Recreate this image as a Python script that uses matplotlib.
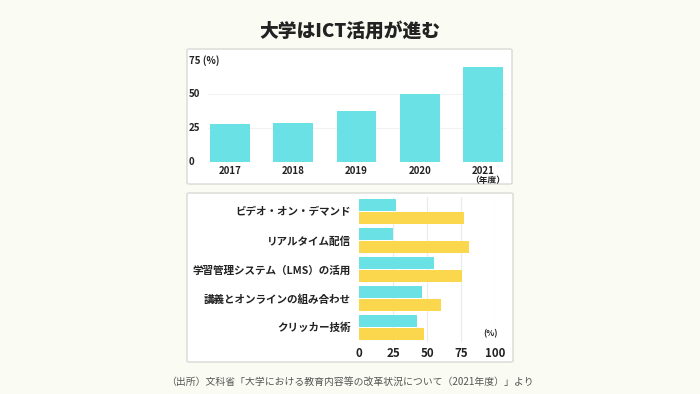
import numpy as np
import matplotlib.pyplot as plt
from matplotlib.patches import FancyBboxPatch

plt.rcParams['font.family'] = ['Noto Sans CJK JP', 'DejaVu Sans']

# データ
years = ['2017', '2018', '2019', '2020', '2021']
ict_rate = [28, 28.5, 37.5, 50, 70.5]

items = ['ビデオ・オン・デマンド', 'リアルタイム配信', '学習管理システム（LMS）の活用',
         '講義とオンラインの組み合わせ', 'クリッカー技術']
rate_a = [27, 25, 55, 46, 42.5]
rate_b = [77, 81, 75.5, 60, 48]

ticks_top = [0, 25, 50, 75]
ticks_top_labels = ['0', '25', '50', '75 (%)']
ticks_bottom = [0, 25, 50, 75, 100]

CYAN = '#6ae2e5'
YELLOW = '#fbd74e'
TXT = '#222222'
BG = '#fafbf3'

W, H = 700, 394
fig = plt.figure(figsize=(7, 3.94), dpi=100, facecolor=BG)


def px_box(x0, y0, x1, y1):
    # ピクセル座標 -> figure座標
    return [x0 / W, 1 - y1 / H, (x1 - x0) / W, (y1 - y0) / H]


# パネルの背景
for (x0, y0, x1, y1) in [(187, 49, 512, 184), (187, 193, 513, 362)]:
    l, b, w, h = px_box(x0, y0, x1, y1)
    fig.patches.append(FancyBboxPatch((l, b), w, h, boxstyle='round,pad=0,rounding_size=0.003',
                                      transform=fig.transFigure, facecolor='white',
                                      edgecolor='#d9d9d6', linewidth=1.0, zorder=-5))

fig.text(0.5, 1 - 31 / H, '大学はICT活用が進む', ha='center', va='center',
         fontsize=13.5, fontweight='heavy', color=TXT)

# 上のグラフ
ax1 = fig.add_axes(px_box(207.5, 60.7, 505.5, 161.7))
ax1.set_facecolor('none')
x = np.arange(len(years))
ax1.bar(x, ict_rate, width=0.63, color=CYAN, zorder=2)
ax1.set_xlim(-0.35, len(years) - 0.65)
ax1.set_ylim(0, 75)
for t in ticks_top[1:-1]:
    ax1.axhline(t, color='#f2f2f2', linewidth=0.8, zorder=1)
for s in ax1.spines.values():
    s.set_visible(False)
ax1.set_yticks([])
ax1.set_xticks(x)
ax1.set_xticklabels(years, fontsize=7, fontweight='bold', color=TXT)
ax1.tick_params(axis='x', length=0, pad=3)
for t, lab in zip(ticks_top, ticks_top_labels):
    ax1.text(-0.062, t, lab, transform=ax1.get_yaxis_transform(), ha='left', va='center',
             fontsize=7, fontweight='bold', color=TXT)
ax1.text(1.0, -0.19, '（年度）', transform=ax1.transAxes, ha='right', va='center',
         fontsize=6.3, fontweight='bold', color=TXT)

# 下のグラフ
ax2 = fig.add_axes(px_box(359.3, 197.2, 495, 341.6))
ax2.set_facecolor('none')
y = np.arange(len(items))
ax2.barh(y - 0.225, rate_a, height=0.415, color=CYAN, zorder=2)
ax2.barh(y + 0.225, rate_b, height=0.415, color=YELLOW, zorder=2)
ax2.set_ylim(len(items) - 0.5, -0.5)
ax2.set_xlim(0, 100)
for t in ticks_bottom[1:]:
    ax2.axvline(t, color='#ebebeb', linewidth=0.8, zorder=1)
for s in ax2.spines.values():
    s.set_visible(False)
ax2.set_yticks(y)
ax2.set_yticklabels(items, fontsize=7.6, fontweight='bold', color=TXT)
ax2.set_xticks(ticks_bottom)
ax2.set_xticklabels([str(t) for t in ticks_bottom], fontsize=8.3, fontweight='bold', color=TXT)
ax2.tick_params(axis='y', length=0, pad=6)
ax2.tick_params(axis='x', length=0, pad=4)
ax2.text(1.02, 0.02, '(%)', transform=ax2.transAxes, ha='right', va='bottom',
         fontsize=6, fontweight='bold', color=TXT)

fig.text(0.5, 1 - 382 / H,
         '（出所）文科省「大学における教育内容等の改革状況について（2021年度）」より',
         ha='center', va='center', fontsize=7.1, color='#555555')

fig.savefig('out.png', dpi=100, facecolor=BG)
